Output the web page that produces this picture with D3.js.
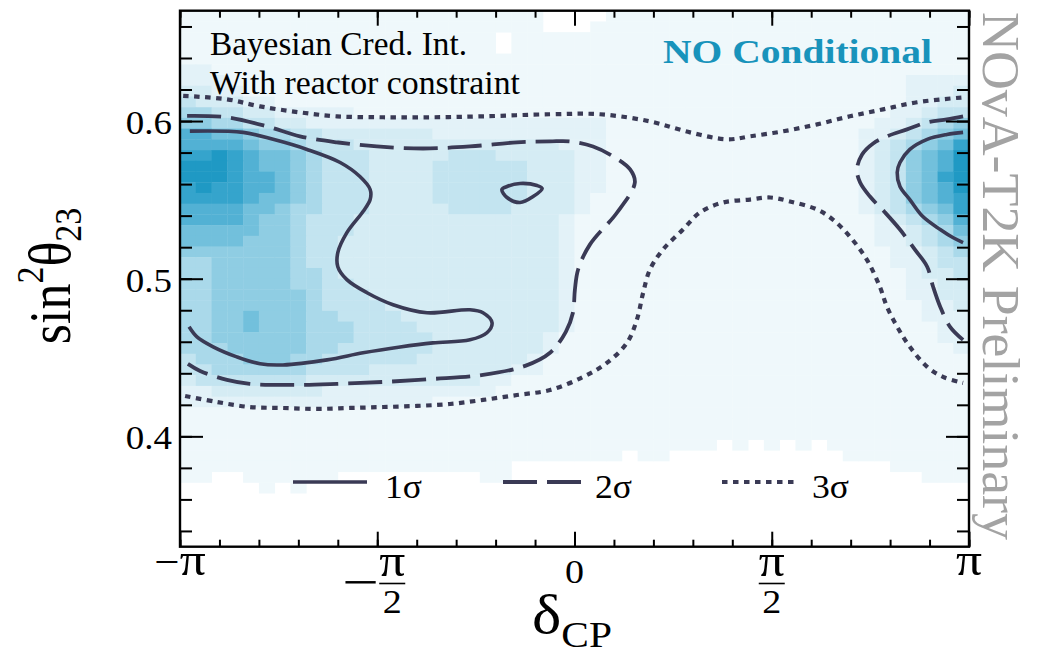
<!DOCTYPE html>
<html>
<head>
<meta charset="utf-8">
<script src="https://cdn.jsdelivr.net/npm/d3@7"></script>
<style>
  html, body { margin: 0; padding: 0; background: #ffffff; }
  svg { display: block; }
  text { font-family: "Liberation Serif", "Times New Roman", "DejaVu Serif", serif; }
</style>
</head>
<body>
<svg id="chart" width="1038" height="656"></svg>
<script>
// ---------- data ----------
// delta_CP values are stored in units of pi, sin^2(theta23) as plain numbers
const deltaDomain = [-1, 1];
const sinDomain = [0.33, 0.67];
const nBinsX = 50;
const nBinsY = 50;

// posterior density levels per bin (0 = empty, A = highest); first row is the top bin
const heatRows = [
  "1111111111 1111111111 1110000111 1111111111 1111111111",
  "1111111111 1111111111 1110001111 1111111111 1111111111",
  "1111111111 1111111111 0111111111 1111111111 1111111111",
  "1111111111 1111111111 0111111111 1111111111 1111111111",
  "1111111111 1111111111 1111111111 1111111111 1111111111",
  "2211111111 1111111111 1111111111 1111111111 1111111111",
  "2221111111 1111111111 1111111111 1111111111 1111112222",
  "3322111111 1111111111 1111111111 1111111111 1111112223",
  "4333221111 1111111111 1111111111 1111111111 1111112233",
  "5544332222 2111111111 1111111111 1111111111 1111122344",
  "6655443322 2222222222 2222222111 1111111111 1111223456",
  "8877655443 3333332222 2222222111 1111111111 1112234567",
  "8888766544 4333333333 3333222111 1111111111 1112345679",
  "99A9877654 4433333444 3333322111 1111111111 111234678A",
  "AAA9877654 4433334444 4433322111 1111111111 111234678A",
  "AAA9887654 4433334444 4433322111 1111111111 111234679A",
  "9A99887654 4433334444 4433322111 1111111111 111234678A",
  "9999877654 4433334444 4433321111 1111111111 1112346789",
  "8888776554 4433333444 4333321111 1111111111 1112345679",
  "8888766544 4333333333 3333211111 1111111111 1111234568",
  "7777766544 4333333333 3333211111 1111111111 1111223457",
  "7777666544 3333333333 3333211111 1111111111 1111223456",
  "6666666544 3333333333 3333211111 1111111111 1111122345",
  "5566666544 3333333333 3333211111 1111111111 1111122344",
  "5566666554 3333333333 3333211111 1111111111 1111112334",
  "5566666554 4333333333 3333211111 1111111111 1111112233",
  "5566666654 4433333333 3333211111 1111111111 1111112233",
  "5566666654 4443333333 3333211111 1111111111 1111111223",
  "5566766655 4444333333 3333211111 1111111111 1111111222",
  "5566766655 5444433333 3333211111 1111111111 1111111122",
  "5566666655 5444443333 3332111111 1111111111 1111111122",
  "5556666655 4444443333 3332111111 1111111111 1111111112",
  "4555666554 4444433333 3321111111 1111111111 1111111111",
  "4455555544 4433333333 3221111111 1111111111 1111111111",
  "3444444433 3333333332 2111111111 1111111111 1111111111",
  "2233333332 2222222222 1111111111 1111111111 1111111111",
  "2222222222 2222221111 1111111111 1111111111 1111111111",
  "1111111111 1111111111 1111111111 1111111111 1111111111",
  "1111111111 1111111111 1111111111 1111111111 1111111111",
  "1111111111 1111111111 1111111111 1111111111 1111111111",
  "1111111111 1111111111 1111111111 1111010101 0111111111",
  "1111111111 1111111111 1111111101 1000000000 0011111111",
  "1111111111 1111111111 1000000000 0000000000 0000011111",
  "1100111111 0000000001 1000000000 0000000000 0000000111",
  "0000010100 0000000000 0000000000 0000000000 0000000000",
  "0000000000 0000000000 0000000000 0000000000 0000000000",
  "0000000000 0000000000 0000000000 0000000000 0000000000",
  "0000000000 0000000000 0000000000 0000000000 0000000000",
  "0000000000 0000000000 0000000000 0000000000 0000000000",
  "0000000000 0000000000 0000000000 0000000000 0000000000"
];
const levelKeys = "0123456789A";
const levelColors = [null, "#eff8fb", "#e3f2f8", "#d5ecf4", "#c3e4f0", "#aad9ea",
                     "#8fcde3", "#72c0dc", "#52b1d4", "#35a4cc", "#1f99c4"];

// credible-interval contours: [delta_CP / pi, sin^2 theta23]
const sigma1Left = [[-0.975,0.5936],[-0.840,0.5928],[-0.764,0.5884],[-0.678,0.582],[-0.594,0.5737],
  [-0.544,0.5648],[-0.518,0.5566],[-0.518,0.5502],[-0.536,0.5426],[-0.577,0.5292],[-0.600,0.5165],
  [-0.600,0.5076],[-0.577,0.4994],[-0.526,0.4911],[-0.460,0.4835],[-0.374,0.4784],[-0.265,0.4803],
  [-0.232,0.4784],[-0.209,0.472],[-0.222,0.4657],[-0.265,0.4612],[-0.359,0.4593],[-0.442,0.4567],
  [-0.536,0.453],[-0.627,0.4485],[-0.739,0.4453],[-0.797,0.446],[-0.856,0.4504],[-0.916,0.4568],
  [-0.957,0.4631],[-0.977,0.4695]];
const sigma1Island = [[-0.184,0.5566],[-0.171,0.5515],[-0.138,0.5483],[-0.105,0.5521],[-0.082,0.5572],
  [-0.095,0.5591],[-0.138,0.5604],[-0.171,0.5585]];
const sigma1Right = [[0.985,0.5928],[0.944,0.5915],[0.894,0.5884],[0.850,0.582],[0.825,0.5737],
  [0.818,0.5674],[0.825,0.5585],[0.850,0.5502],[0.883,0.5394],[0.927,0.5312],[0.959,0.5261],[0.985,0.5229]];
const sigma2Left = [[-0.982,0.6033],[-0.881,0.6024],[-0.779,0.5966],[-0.696,0.5903],[-0.602,0.5865],
  [-0.501,0.5839],[-0.384,0.5826],[-0.265,0.5839],[-0.146,0.5865],[-0.062,0.5871],[-0.011,0.5871],
  [0.047,0.5839],[0.098,0.5776],[0.141,0.5693],[0.153,0.561],[0.108,0.542],[0.039,0.5216],
  [0.009,0.5057],[0.001,0.493],[-0.004,0.4784],[-0.022,0.4663],[-0.062,0.453],[-0.125,0.4447],
  [-0.232,0.439],[-0.359,0.4364],[-0.485,0.4345],[-0.602,0.4333],[-0.721,0.4326],[-0.823,0.4333],
  [-0.881,0.4358],[-0.949,0.4415],[-0.980,0.446]];
const sigma2Right = [[0.985,0.603],[0.944,0.6011],[0.894,0.5992],[0.843,0.5947],[0.792,0.5903],
  [0.757,0.5858],[0.729,0.5788],[0.716,0.5693],[0.724,0.561],[0.749,0.5521],[0.785,0.5426],
  [0.825,0.5312],[0.863,0.5184],[0.894,0.5076],[0.909,0.4949],[0.927,0.4822],[0.952,0.4695],[0.985,0.4612]];
const sigma3Top = [[-0.992,0.616],[-0.881,0.6138],[-0.797,0.6093],[-0.696,0.6055],[-0.602,0.603],
  [-0.485,0.6024],[-0.359,0.6024],[-0.232,0.603],[-0.062,0.6043],[0.065,0.6043],[0.191,0.5998],
  [0.293,0.5928],[0.387,0.5884],[0.445,0.5903],[0.529,0.5935],[0.615,0.5979],[0.698,0.603],
  [0.782,0.6074],[0.868,0.6119],[0.985,0.615]];
const sigma3Bottom = [[-0.987,0.4256],[-0.906,0.4218],[-0.823,0.4186],[-0.739,0.418],[-0.653,0.4174],
  [-0.569,0.418],[-0.485,0.4186],[-0.399,0.4193],[-0.316,0.4205],[-0.232,0.4231],[-0.146,0.4262],
  [-0.062,0.4294],[0.022,0.4377],[0.082,0.4466],[0.133,0.4593],[0.158,0.4739],[0.174,0.4911],
  [0.191,0.5057],[0.224,0.5184],[0.275,0.5312],[0.318,0.542],[0.376,0.5483],[0.445,0.5502],
  [0.496,0.5515],[0.546,0.549],[0.615,0.5439],[0.655,0.5375],[0.698,0.5267],[0.741,0.5121],
  [0.774,0.4949],[0.792,0.4822],[0.818,0.4695],[0.850,0.4568],[0.894,0.4441],[0.934,0.4377],[0.985,0.4339]];

// axis ticks
const xMajorTicks = [-1, -0.5, 0, 0.5, 1];
const xTickLabels = ["−π", "−π/2", "0", "π/2", "π"];
const yMajorTicks = [0.4, 0.5, 0.6];
const yTickLabels = ["0.4", "0.5", "0.6"];

const legendLabels = ["1σ", "2σ", "3σ"];

// ---------- layout ----------
const svg = d3.select("#chart");
const plot = { left: 180, right: 969, top: 10.7, bottom: 546.7 };
const x = d3.scaleLinear().domain(deltaDomain.map(d => d * Math.PI)).range([plot.left, plot.right]);
const y = d3.scaleLinear().domain(sinDomain).range([plot.bottom, plot.top]);
const lineColor = "#3a3a55";
const sx = 1.12; // horizontal glyph stretch used for the labels

svg.append("defs").append("clipPath").attr("id", "plotClip")
  .append("rect").attr("x", plot.left).attr("y", plot.top)
  .attr("width", plot.right - plot.left).attr("height", plot.bottom - plot.top);

// ---------- heat map ----------
const dxBin = (deltaDomain[1] - deltaDomain[0]) * Math.PI / nBinsX;
const dyBin = (sinDomain[1] - sinDomain[0]) / nBinsY;
const cells = [];
heatRows.forEach((row, j) => {
  const levels = row.replace(/ /g, "");
  for (let i = 0; i < nBinsX; i++) {
    const lv = levelKeys.indexOf(levels[i]);
    if (lv > 0) cells.push({ i, j, lv });
  }
});
svg.append("g").attr("clip-path", "url(#plotClip)")
  .selectAll("rect").data(cells).join("rect")
  .attr("x", d => x(deltaDomain[0] * Math.PI + d.i * dxBin))
  .attr("y", d => y(sinDomain[1] - d.j * dyBin))
  .attr("width", d => x(deltaDomain[0] * Math.PI + (d.i + 1) * dxBin) - x(deltaDomain[0] * Math.PI + d.i * dxBin) + 0.4)
  .attr("height", d => y(sinDomain[1] - (d.j + 1) * dyBin) - y(sinDomain[1] - d.j * dyBin) + 0.4)
  .attr("fill", d => levelColors[d.lv]);

// ---------- contours ----------
const line = d3.line().x(d => x(d[0] * Math.PI)).y(d => y(d[1])).curve(d3.curveCatmullRom.alpha(0.5));
const closedLine = d3.line().x(d => x(d[0] * Math.PI)).y(d => y(d[1])).curve(d3.curveCatmullRomClosed.alpha(0.5));
const styles = {
  solid: { w: 3.6, dash: null },
  dashed: { w: 3.8, dash: "34,10" },
  dotted: { w: 4.2, dash: "5.5,5.5" }
};
const contours = [
  { pts: sigma1Left, st: "solid", closed: false },
  { pts: sigma1Island, st: "solid", closed: true },
  { pts: sigma1Right, st: "solid", closed: false },
  { pts: sigma2Left, st: "dashed", closed: false },
  { pts: sigma2Right, st: "dashed", closed: false },
  { pts: sigma3Top, st: "dotted", closed: false },
  { pts: sigma3Bottom, st: "dotted", closed: false }
];
const cg = svg.append("g").attr("clip-path", "url(#plotClip)");
contours.forEach(c => {
  cg.append("path")
    .attr("d", (c.closed ? closedLine : line)(c.pts))
    .attr("fill", "none")
    .attr("stroke", lineColor)
    .attr("stroke-width", styles[c.st].w)
    .attr("stroke-dasharray", styles[c.st].dash)
    .attr("stroke-linejoin", "round");
});

// ---------- axes (ticks point inward) ----------
const xMinor = d3.range(-10, 11).map(k => k / 10 * Math.PI);
const xMajor = xMajorTicks.map(v => v * Math.PI);
const yMinor = d3.range(17, 34).map(k => k * 0.02).filter(v => v > 0.33 && v < 0.67);
function styleAxis(g) {
  g.select(".domain").remove();
  g.selectAll("line").attr("stroke", "#000").attr("stroke-width", 2);
}
svg.append("g").attr("transform", `translate(0,${plot.bottom})`)
  .call(d3.axisBottom(x).tickValues(xMinor).tickSize(-7).tickFormat("")).call(styleAxis);
svg.append("g").attr("transform", `translate(0,${plot.bottom})`)
  .call(d3.axisBottom(x).tickValues(xMajor).tickSize(-15).tickFormat("")).call(styleAxis);
svg.append("g").attr("transform", `translate(0,${plot.top})`)
  .call(d3.axisTop(x).tickValues(xMinor).tickSize(-7).tickFormat("")).call(styleAxis);
svg.append("g").attr("transform", `translate(0,${plot.top})`)
  .call(d3.axisTop(x).tickValues(xMajor).tickSize(-15).tickFormat("")).call(styleAxis);
svg.append("g").attr("transform", `translate(${plot.left},0)`)
  .call(d3.axisLeft(y).tickValues(yMinor).tickSize(-12).tickFormat("")).call(styleAxis);
svg.append("g").attr("transform", `translate(${plot.left},0)`)
  .call(d3.axisLeft(y).tickValues(yMajorTicks).tickSize(-23).tickFormat("")).call(styleAxis);
svg.append("g").attr("transform", `translate(${plot.right},0)`)
  .call(d3.axisRight(y).tickValues(yMinor).tickSize(-12).tickFormat("")).call(styleAxis);
svg.append("g").attr("transform", `translate(${plot.right},0)`)
  .call(d3.axisRight(y).tickValues(yMajorTicks).tickSize(-23).tickFormat("")).call(styleAxis);

svg.append("rect")
  .attr("x", plot.left).attr("y", plot.top)
  .attr("width", plot.right - plot.left).attr("height", plot.bottom - plot.top)
  .attr("fill", "none").attr("stroke", "#000").attr("stroke-width", 2.4);

// ---------- text helpers ----------
function textAt(px, py, anchor, stretch) {
  const g = svg.append("g").attr("transform", `translate(${px},${py}) scale(${stretch},1)`);
  return g.append("text").attr("x", 0).attr("y", 0).attr("text-anchor", anchor);
}

// y tick labels
yMajorTicks.forEach((v, k) => {
  textAt(plot.left - 8, y(v) + 13, "end", sx).attr("font-size", 33).text(yTickLabels[k]);
});

// x tick labels (fractions drawn as numerator / bar / denominator)
xMajorTicks.forEach((v, k) => {
  const px = x(v * Math.PI);
  let lab = xTickLabels[k];
  let sign = "";
  if (lab.includes("/")) {
    if (lab[0] === "−") { sign = "−"; lab = lab.slice(1); }
    const [num, den] = lab.split("/");
    const cx = sign ? px + 15 : px;
    if (sign) textAt(px - 17, 599, "middle", 1.3).attr("font-size", 50).text(sign);
    textAt(cx, 576, "middle", sx).attr("font-size", num === "π" ? 46 : 34).text(num);
    svg.append("line").attr("x1", cx - 13).attr("x2", cx + 13).attr("y1", 583.5).attr("y2", 583.5)
      .attr("stroke", "#000").attr("stroke-width", 1.6);
    textAt(cx, 613, "middle", sx).attr("font-size", 34).text(den);
  } else if (lab.includes("π")) {
    const t = textAt(px, 575, "middle", sx);
    if (lab[0] === "−") {
      t.append("tspan").attr("font-size", 40).text("−");
      t.append("tspan").attr("font-size", 46).text(lab.slice(1));
    } else {
      t.attr("font-size", 46).text(lab);
    }
  } else {
    textAt(px, 583, "middle", sx).attr("font-size", 34).text(lab);
  }
});

// axis titles
const xt = textAt(572, 633, "middle", 1.15);
xt.append("tspan").attr("font-size", 54).text("δ");
xt.append("tspan").attr("font-size", 36).attr("dy", 14).text("CP");

const ytg = svg.append("g").attr("transform", "translate(70,276) scale(1.12,1) rotate(-90)");
const yt = ytg.append("text").attr("text-anchor", "middle");
yt.append("tspan").attr("font-size", 52).text("sin");
yt.append("tspan").attr("font-size", 34).attr("dy", -24).text("2");
yt.append("tspan").attr("font-size", 52).attr("dy", 24).text("θ");
yt.append("tspan").attr("font-size", 34).attr("dy", 10).text("23");

// annotations
svg.append("text").attr("x", 210).attr("y", 55).attr("font-size", 33)
  .attr("textLength", 257).attr("lengthAdjust", "spacingAndGlyphs").text("Bayesian Cred. Int.");
svg.append("text").attr("x", 210).attr("y", 94).attr("font-size", 33)
  .attr("textLength", 310).attr("lengthAdjust", "spacingAndGlyphs").text("With reactor constraint");
svg.append("text").attr("x", 663).attr("y", 63).attr("font-size", 34).attr("font-weight", "bold")
  .attr("fill", "#1893bb").attr("textLength", 269).attr("lengthAdjust", "spacingAndGlyphs")
  .text("NO Conditional");
svg.append("g").attr("transform", "translate(983,12) rotate(90)")
  .append("text").attr("font-size", 53).attr("fill", "#a3a3a3")
  .attr("textLength", 528).attr("lengthAdjust", "spacingAndGlyphs")
  .text("NOvA-T2K Preliminary");

// ---------- legend ----------
const legendItems = [
  { st: "solid", x0: 293, x1: 367, tx: 385 },
  { st: "dashed", x0: 503, x1: 581, tx: 595 },
  { st: "dotted", x0: 722, x1: 796, tx: 812 }
];
legendItems.forEach((it, k) => {
  svg.append("line").attr("x1", it.x0).attr("x2", it.x1).attr("y1", 482).attr("y2", 482)
    .attr("stroke", lineColor).attr("stroke-width", styles[it.st].w)
    .attr("stroke-dasharray", styles[it.st].dash);
  textAt(it.tx, 498, "start", 1.05).attr("font-size", 34).text(legendLabels[k]);
});
</script>
</body>
</html>
